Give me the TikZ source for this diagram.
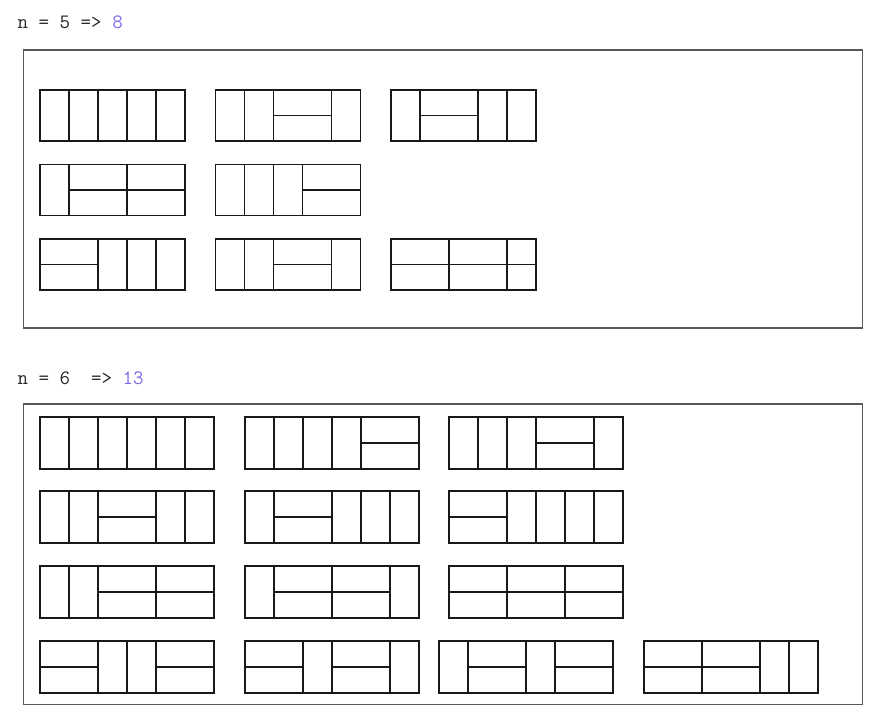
\documentclass[tikz,border=0pt]{standalone}
\usepackage{fontspec}
\definecolor{numpurple}{RGB}{125,105,230}
\definecolor{framegray}{RGB}{88,88,88}
\definecolor{textgray}{RGB}{40,40,40}
\tikzset{
  tileline/.style={draw=black!90, line width=1.25pt, line cap=square},
  framebox/.style={draw=framegray, line width=1.6pt},
  headtext/.style={anchor=base west, inner sep=0pt, text=textgray,
    font=\fontsize{20.4}{24}\selectfont\ttfamily},
}
% x, ytop, units, height, vertical lines, midline segments
\newcommand\domtile[6]{%
  \begin{scope}[shift={(#1,#2)}]
    \draw[tileline] (0,0) rectangle (#3*29,#4);
    \if\relax\detokenize{#5}\relax\else
      \foreach \v in {#5} {\draw[tileline] (\v*29,0) -- (\v*29,#4);}%
    \fi
    \if\relax\detokenize{#6}\relax\else
      \foreach \a/\b in {#6} {\draw[tileline] (\a*29,#4/2) -- (\b*29,#4/2);}%
    \fi
  \end{scope}}
\begin{document}
\begin{tikzpicture}[x=1pt,y=-1pt]
\useasboundingbox (0,0) rectangle (880,722);
% headings
\node[headtext] (t5) at (17.5,29) {n~=~5~=>~\textcolor{numpurple}{8}};
\node[headtext] (t6) at (17.5,384) {n~=~6~~=>~\textcolor{numpurple}{13}};
% frames
\draw[framebox] (23.5,50) rectangle (862.5,328);
\draw[framebox] (23.5,404) rectangle (862.5,704.5);
% n = 5
\domtile{40}{90}{5}{51}{1,2,3,4}{}
\domtile{215.5}{90}{5}{51}{1,2,4}{2/4}
\domtile{391}{90}{5}{51}{1,3,4}{1/3}
\domtile{40}{164.5}{5}{51}{1,3}{1/5}
\domtile{215.5}{164.5}{5}{51}{1,2,3}{3/5}
\domtile{40}{239}{5}{51}{2,3,4}{0/2}
\domtile{215.5}{239}{5}{51}{1,2,4}{2/4}
\domtile{391}{239}{5}{51}{2,4}{0/5}
% n = 6
\domtile{40}{417}{6}{52}{1,2,3,4,5}{}
\domtile{245}{417}{6}{52}{1,2,3,4}{4/6}
\domtile{449}{417}{6}{52}{1,2,3,5}{3/5}
\domtile{40}{491}{6}{52}{1,2,4,5}{2/4}
\domtile{245}{491}{6}{52}{1,3,4,5}{1/3}
\domtile{449}{491}{6}{52}{2,3,4,5}{0/2}
\domtile{40}{566}{6}{52}{1,2,4}{2/6}
\domtile{245}{566}{6}{52}{1,3,5}{1/5}
\domtile{449}{566}{6}{52}{2,4}{0/6}
\domtile{40}{641}{6}{52}{2,3,4}{0/2,4/6}
\domtile{245}{641}{6}{52}{2,3,5}{0/2,3/5}
\domtile{439}{641}{6}{52}{1,3,4}{1/3,4/6}
\domtile{644}{641}{6}{52}{2,4,5}{0/4}
\end{tikzpicture}
\end{document}
